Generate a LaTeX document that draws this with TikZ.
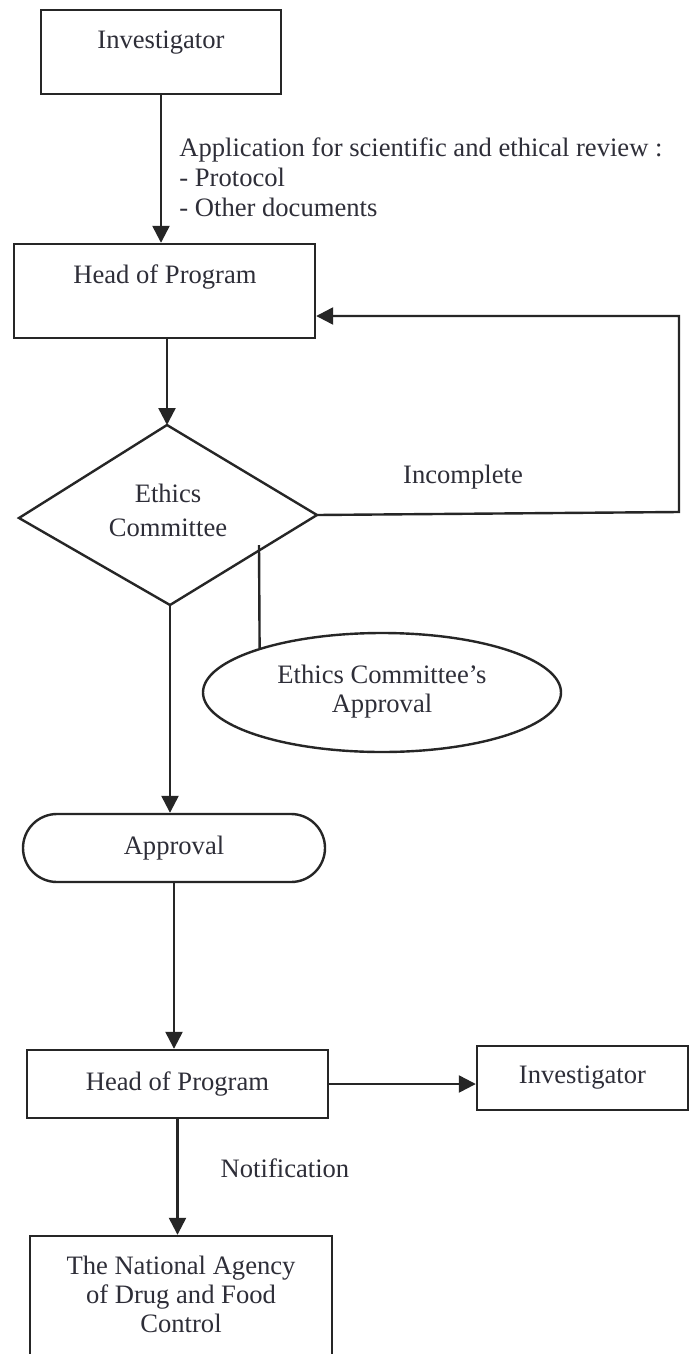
\documentclass[tikz,border=0pt]{standalone}
\usepackage{fontspec}
\setmainfont{Liberation Serif}
\usetikzlibrary{arrows.meta,shapes.geometric}
\definecolor{ink}{HTML}{262626}
\definecolor{txt}{HTML}{2E2E38}
\tikzset{
  ln/.style={draw=ink, line width=1.2pt},
  arr/.style={ln, -{Triangle[length=8.5pt,width=8.5pt]}},
  boxnode/.style={ln, rectangle, inner sep=0pt},
  lbl/.style={text=txt, font=\fontsize{13.3}{15}\selectfont, inner sep=0pt, align=center},
}
\begin{document}
\begin{tikzpicture}[x=0.5pt,y=-0.5pt]
\useasboundingbox (0,0) rectangle (692,1354);
\clip (0,0) rectangle (692,1354);
\fill[white] (0,0) rectangle (692,1354);

% Investigator (top)
\node[boxnode, minimum width=120pt, minimum height=42pt] (inv1) at (161,52) {};
\node[lbl] (inv1t) at (161,43) {Investigator};

% Head of Program (top)
\node[boxnode, minimum width=150.5pt, minimum height=47pt] (head1) at (164.5,291) {};
\node[lbl] (head1t) at (165,277) {Head of Program};

\draw[arr] (inv1.south) -- (inv1.south |- head1.north);
\node[lbl, anchor=west, align=left, font=\fontsize{13.3}{15}\selectfont] (appl) at (179,177)
  {Application for scientific and ethical review :\\- Protocol\\- Other documents};

% Ethics Committee diamond
\coordinate (dT) at (167,425);
\coordinate (dR) at (317,515);
\coordinate (dB) at (170,605);
\coordinate (dL) at (19,518);
\draw[ln, line join=miter] (dT) -- (dR) -- (dB) -- (dL) -- cycle;
\node[lbl, font=\fontsize{13.3}{17}\selectfont] (ec) at (168,510) {Ethics\\Committee};

\draw[arr] (head1.south -| dT) -- (dT);

% Incomplete loop
\coordinate (lpA) at (679,512);
\coordinate (lpB) at (679,316);
\draw[arr] (dR) -- (lpA) -- (lpB) -- (head1.east |- lpB);
\node[lbl] (inc) at (463,477) {Incomplete};

% Ethics Committee's Approval ellipse
\node[ln, ellipse, minimum width=179pt, minimum height=59.5pt, inner sep=0pt] (eca) at (382,692.5) {};
\node[lbl, font=\fontsize{13.3}{14.5}\selectfont] (ecat) at (382,692) {Ethics Committee’s\\Approval};
\coordinate (tap) at (259,545);
\draw[ln] (tap) -- (eca.160.5);

% Approval terminal
\node[boxnode, rounded corners=17pt, minimum width=151pt, minimum height=34pt, lbl, draw=ink] (apr) at (174,848) {Approval};
\draw[arr] (dB) -- (dB |- apr.north);

% Head of Program (bottom)
\node[boxnode, minimum width=150.5pt, minimum height=34pt, lbl, draw=ink] (head2) at (177.5,1084) {Head of Program};
\draw[arr] (apr.south) -- (apr.south |- head2.north);

% Investigator (bottom right)
\node[boxnode, minimum width=105.5pt, minimum height=32pt, lbl, draw=ink] (inv2) at (582.5,1078) {Investigator};
\draw[arr] (head2.east) -- (head2.east -| inv2.west);

% National Agency
\node[boxnode, minimum width=151pt, minimum height=66pt] (nat) at (181,1302) {};
\node[lbl, font=\fontsize{13.3}{14.5}\selectfont] (natt) at (181,1294) {The National Agency\\of Drug and Food\\Control};
\draw[arr] (head2.south) -- (head2.south |- nat.north);
\node[lbl] (notif) at (285,1168) {Notification};
\end{tikzpicture}
\end{document}
